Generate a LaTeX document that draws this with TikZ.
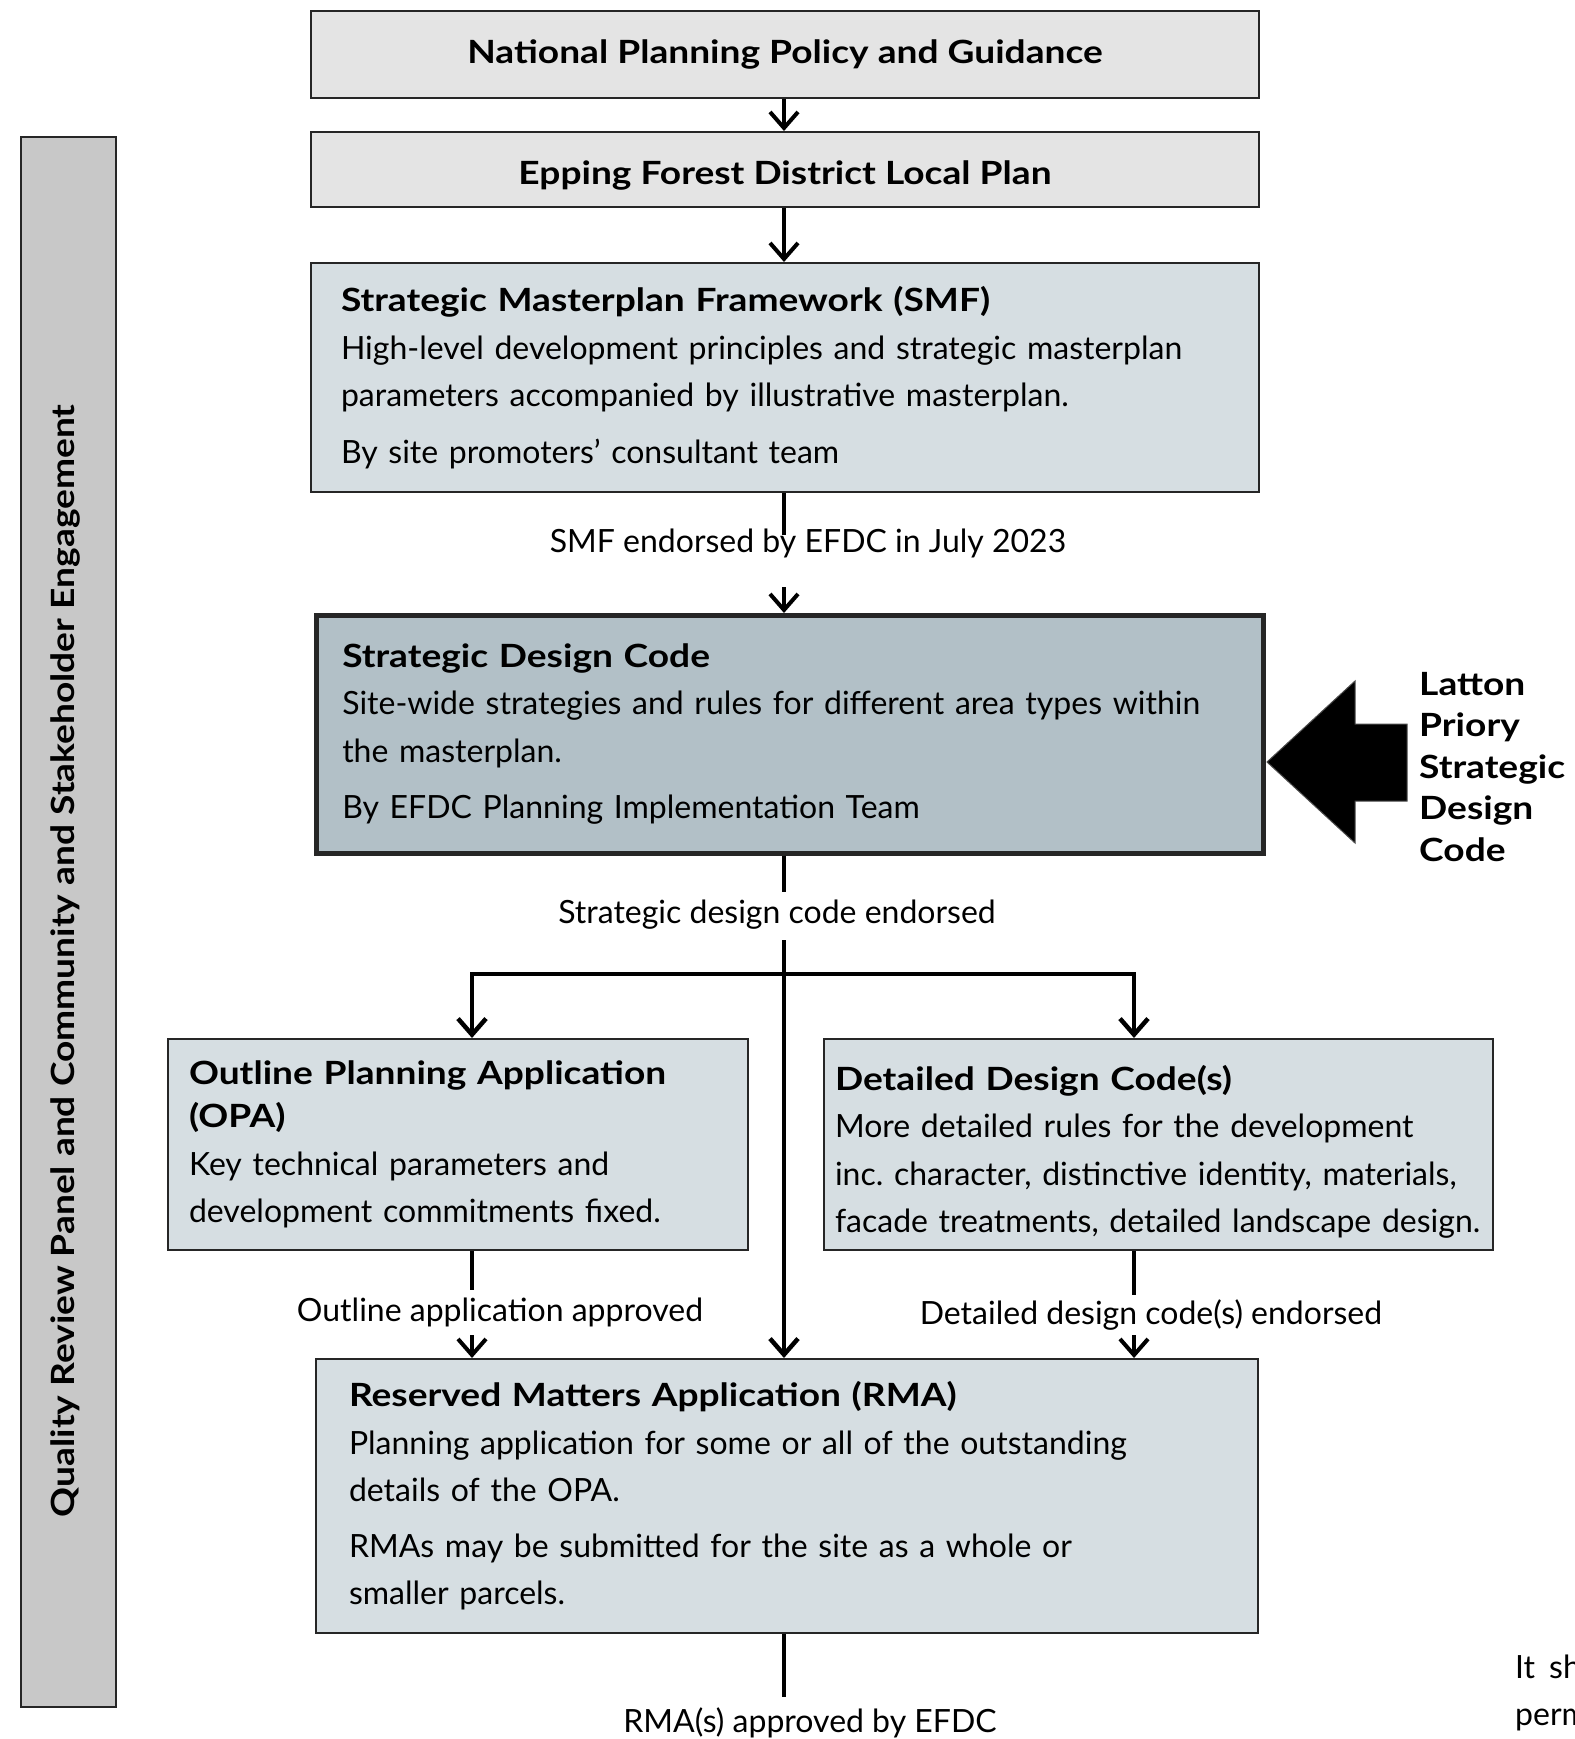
\documentclass[tikz,border=0pt]{standalone}
\usepackage{fontspec}
\setmainfont{Lato}[BoldFeatures={FakeStretch=1.16}]
\usetikzlibrary{arrows.meta,positioning}

\definecolor{plangrey}{HTML}{E4E4E4}
\definecolor{planblue}{HTML}{D6DEE2}
\definecolor{codeblue}{HTML}{B2C0C7}
\definecolor{panelgrey}{HTML}{C8C8C8}

\tikzset{
  headbox/.style={draw=black!85, line width=2pt, fill=plangrey, minimum width=948pt,
    anchor=north west, inner sep=0pt, font=\fontsize{32}{38}\selectfont\bfseries},
  textbox/.style={draw=black!85, line width=2pt, fill=planblue, anchor=north west,
    align=left, inner xsep=30pt, inner ysep=0pt, font=\fontsize{32}{47.5}\selectfont},
  note/.style={inner sep=0pt, font=\fontsize{32}{38}\selectfont},
  flow/.style={line width=4.5pt},
  arrowline/.style={line width=4.5pt, -{Straight Barb[length=16pt,width=28pt]}},
}

\begin{document}
\begin{tikzpicture}[x=1pt,y=-1pt]
    \useasboundingbox (0,0) rectangle (1574,1739);

    % Side panel
    \node[draw=black!85, line width=2pt, fill=panelgrey, anchor=north west, inner sep=0pt,
      minimum width=95pt, minimum height=1570pt] (panel) at (20,136) {};
    \node[rotate=90, inner sep=0pt, font=\fontsize{32}{38}\selectfont\bfseries] (panellbl) at (65,961)
      {Quality Review Panel and Community and Stakeholder Engagement};

    % Policy boxes
    \node[headbox, minimum height=87pt] (npp) at (310,10) {National Planning Policy and Guidance};
    \node[headbox, minimum height=75pt, text height=31pt, text depth=0pt] (eflp) at (310,131)
      {Epping Forest District Local Plan};

    \node[textbox, text width=888pt, minimum height=229pt] (smf) at (310,262)
      {\textbf{Strategic Masterplan Framework (SMF)}\\
       High-level development principles and strategic masterplan\\
       parameters accompanied by illustrative masterplan.\\[9pt]
       By site promoters’ consultant team};

    \node[textbox, fill=codeblue, line width=4.5pt, inner xsep=26pt, text width=895pt,
      minimum height=238pt] (sdc) at (314,613)
      {\textbf{Strategic Design Code}\\
       Site-wide strategies and rules for different area types within\\
       the masterplan.\\[9pt]
       By EFDC Planning Implementation Team};

    \node[textbox, inner xsep=21pt, text width=538pt, minimum height=211pt] (opa) at (167,1038)
      {\textbf{Outline Planning Application}\\[-4pt]
       \textbf{(OPA)}\\
       Key technical parameters and\\
       development commitments fixed.};

    \node[textbox, inner xsep=11pt, text width=647pt, text height=40pt, minimum height=211pt] (ddc) at (823,1038)
      {\textbf{Detailed Design Code(s)}\\
       More detailed rules for the development\\
       inc.\ character, distinctive identity, materials,\\
       facade treatments, detailed landscape design.};

    \node[textbox, inner xsep=33pt, text width=876pt, minimum height=274pt] (rma) at (315,1358)
      {\textbf{Reserved Matters Application (RMA)}\\
       Planning application for some or all of the outstanding\\
       details of the OPA.\\[8pt]
       RMAs may be submitted for the site as a whole or\\
       smaller parcels.};

    % Labels on the flow
    \node[note] (smfok) at (808,543) {SMF endorsed by EFDC in July 2023};
    \node[note] (sdcok) at (777,915) {Strategic design code endorsed};
    \node[note] (opaok) at (500,1312) {Outline application approved};
    \node[note] (ddcok) at (1151,1315) {Detailed design code(s) endorsed};
    \node[note] (rmaok) at (810,1723) {RMA(s) approved by EFDC};

    \coordinate (smfgap) at (784,535);
    \coordinate (sdcin) at (784,587);
    \coordinate (sdcgap) at (784,892);
    \coordinate (mainin) at (784,940);
    \coordinate (split) at (784,974);
    \coordinate (opain) at (472,974);
    \coordinate (ddcin) at (1134,974);
    \coordinate (opagap) at (472,1290);
    \coordinate (opaarr) at (472,1335);
    \coordinate (ddcgap) at (1134,1295);
    \coordinate (ddcarr) at (1134,1335);
    \coordinate (rmagap) at (784,1697);

    % Connectors
    \draw[arrowline, line width=4pt] (npp.south -| smfgap) -- (eflp.north -| smfgap);
    \draw[arrowline, line width=4pt] (eflp.south -| smfgap) -- (smf.north -| smfgap);
    \draw[flow] (smf.south -| smfgap) -- (smfgap);
    \draw[arrowline, line width=4pt] (sdcin) -- (sdc.north -| sdcin);
    \draw[flow] (sdc.south -| sdcgap) -- (sdcgap);
    \draw[arrowline] (mainin) -- (rma.north -| mainin);
    \draw[arrowline] (split) -| (opa.north -| opain);
    \draw[arrowline] (split) -| (ddc.north -| ddcin);
    \draw[flow] (opa.south -| opagap) -- (opagap);
    \draw[arrowline, line width=4pt] (opaarr) -- (rma.north -| opaarr);
    \draw[flow] (ddc.south -| ddcgap) -- (ddcgap);
    \draw[arrowline, line width=4pt] (ddcarr) -- (rma.north -| ddcarr);
    \draw[flow] (rma.south -| rmagap) -- (rmagap);

    % Latton Priory pointer
    \draw[fill=black, draw=black!70, line width=1pt]
      (1267,762) -- (1355,681) -- (1355,724) -- (1407,724) -- (1407,801)
      -- (1355,801) -- (1355,843) -- cycle;
    \node[anchor=west, align=left, inner sep=0pt, font=\fontsize{32}{41.5}\selectfont\bfseries]
      (latton) at (1419,767) {Latton\\Priory\\Strategic\\Design\\Code};

    % Cut-off note at the page edge
    \node[anchor=west, align=left, inner sep=0pt, font=\fontsize{32}{47}\selectfont]
      (edge) at (1515,1693) {It\hspace{14pt}sh\\perm};
\end{tikzpicture}
\end{document}
